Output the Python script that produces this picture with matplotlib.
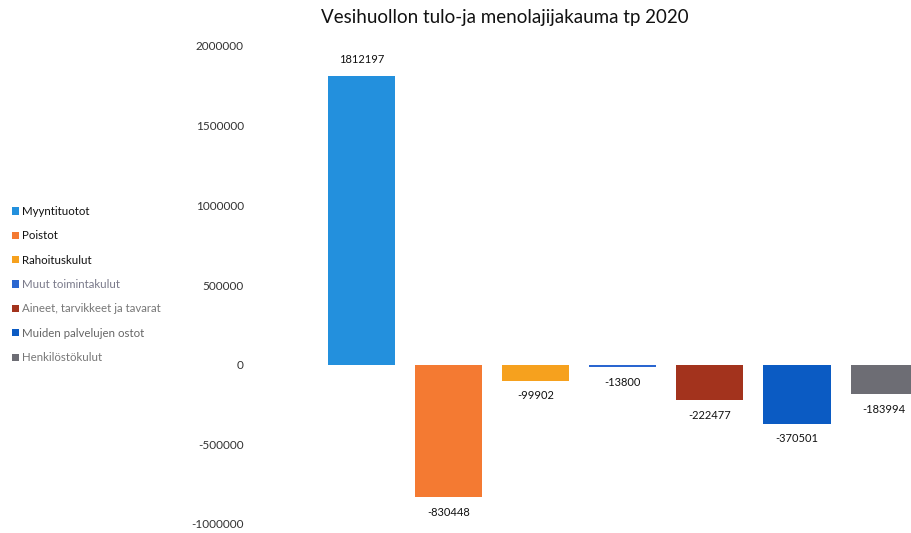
import matplotlib
matplotlib.use("Agg")
import matplotlib.pyplot as plt
from matplotlib.patches import Patch

# Data
categories = ["Myyntituotot", "Poistot", "Rahoituskulut", "Muut toimintakulut",
              "Aineet, tarvikkeet ja tavarat", "Muiden palvelujen ostot", "Henkilöstökulut"]
values = [1812197, -830448, -99902, -13800, -222477, -370501, -183994]
bar_colors = ["#2390DD", "#F47A32", "#F6A11E", "#2A66D0", "#A3331D", "#0B5BC3", "#6D6D74"]
legend_text_colors = ["#111111", "#111111", "#111111", "#7A7A8A", "#777777", "#666666", "#777777"]
yticks = [-1000000, -500000, 0, 500000, 1000000, 1500000, 2000000]

plt.rcParams['font.family'] = ['Lato', 'DejaVu Sans']

fig = plt.figure(figsize=(9.12, 5.33), dpi=100)
W, H = 912, 533
ax = fig.add_axes([255 / W, (H - 524) / H, 1 - 255 / W, (524 - 46) / H])

x = list(range(len(values)))
ax.bar(x, values, width=0.77, color=bar_colors)

for xi, v in zip(x, values):
    if v >= 0:
        ax.annotate(f"{v}", (xi, v), xytext=(0, 8), textcoords="offset points",
                    ha="center", va="bottom", fontsize=8, color="#111111")
    else:
        ax.annotate(f"{v}", (xi, v), xytext=(0, -7), textcoords="offset points",
                    ha="center", va="top", fontsize=8, color="#111111")

ax.set_xlim(-1.22, 6.32)
ax.set_ylim(-1000000, 2000000)
ax.set_yticks(yticks)
ax.set_yticklabels([str(t) for t in yticks], fontsize=8.5, color="#333333")
ax.tick_params(axis="y", length=0, pad=8)
ax.set_xticks([])
for s in ax.spines.values():
    s.set_visible(False)

fig.text(505 / W, 1 - 17 / H, "Vesihuollon tulo-ja menolajijakauma tp 2020",
         ha="center", va="center", fontsize=13.5, color="#111111")

handles = [Patch(facecolor=c) for c in bar_colors]
leg = fig.legend(handles, categories, loc="upper left", bbox_to_anchor=(12 / W, 1 - 206 / H),
                 frameon=False, fontsize=8.3, handlelength=0.6, handleheight=0.6,
                 handletextpad=0.3, labelspacing=1.16, borderaxespad=0, borderpad=0)
for t, c in zip(leg.get_texts(), legend_text_colors):
    t.set_color(c)

fig.savefig("out.png", dpi=100)
